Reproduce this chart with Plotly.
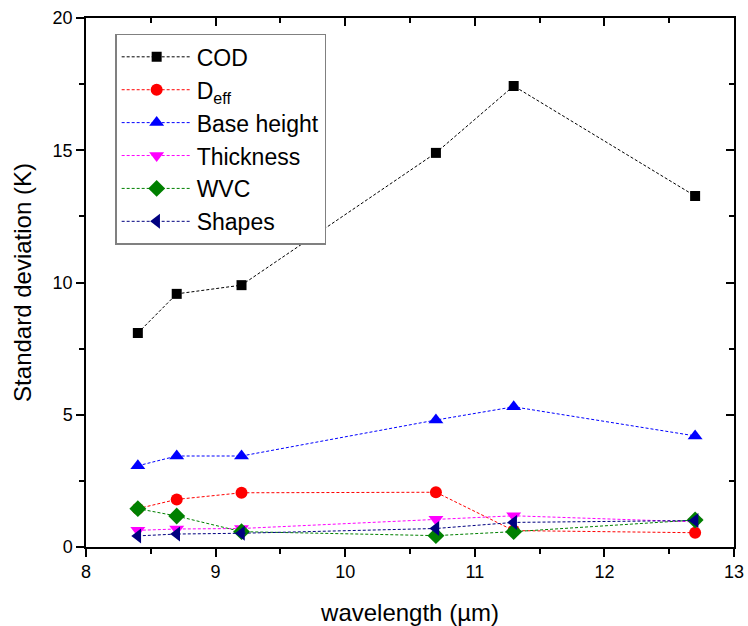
import plotly.graph_objects as go

wavelength = [8.4, 8.7, 9.2, 10.7, 11.3, 12.7]
cod = [8.09, 9.57, 9.9, 14.9, 17.43, 13.27]
deff = [1.45, 1.80, 2.05, 2.07, 0.62, 0.54]
base_height = [3.07, 3.44, 3.44, 4.8, 5.3, 4.2]
thickness = [0.63, 0.68, 0.7, 1.05, 1.18, 0.95]
wvc = [1.45, 1.17, 0.58, 0.43, 0.58, 1.02]
shapes = [0.42, 0.49, 0.52, 0.7, 0.93, 1.0]

series = [
    ("COD", cod, "black", "square", 10),
    ("D<sub>eff</sub>", deff, "red", "circle", 12),
    ("Base height", base_height, "blue", "triangle-up", 13),
    ("Thickness", thickness, "magenta", "triangle-down", 13),
    ("WVC", wvc, "green", "diamond", 13),
    ("Shapes", shapes, "#000080", "triangle-left", 13),
]

fig = go.Figure()
for name, vals, color, sym, size in series:
    fig.add_trace(go.Scatter(
        x=wavelength, y=vals, name=name, mode="lines+markers",
        line=dict(color=color, width=1, dash="3px,2px"),
        marker=dict(symbol=sym, size=size, color=color),
    ))

axis_common = dict(showline=True, linecolor="black", linewidth=1.5, showgrid=False,
                   zeroline=False, tickcolor="black", tickwidth=1.5, automargin=False)

fig.update_layout(
    width=748, height=626,
    margin=dict(l=86, r=14, t=18, b=79),
    plot_bgcolor="white", paper_bgcolor="white",
    font=dict(family="Liberation Sans, Arial, sans-serif", color="black"),
    xaxis=dict(range=[8, 13], dtick=1, ticks="outside", ticklen=8,
               minor=dict(dtick=0.5, ticks="outside", ticklen=5, tickcolor="black"),
               title=dict(text="wavelength (µm)", font=dict(size=24), standoff=23),
               tickfont=dict(size=18), **axis_common),
    yaxis=dict(range=[0, 20], dtick=5, ticks="outside", ticklen=8,
               minor=dict(dtick=2.5, ticks="outside", ticklen=5, tickcolor="black"),
               title=dict(text="Standard deviation (K)", font=dict(size=24), standoff=14),
               tickfont=dict(size=18), **axis_common),
    xaxis2=dict(range=[8, 13], dtick=1, ticks="inside", ticklen=8, overlaying="x", side="top",
                minor=dict(dtick=0.5, ticks="inside", ticklen=5, tickcolor="black"),
                showticklabels=False, **axis_common),
    yaxis2=dict(range=[0, 20], dtick=5, ticks="inside", ticklen=8, overlaying="y", side="right",
                minor=dict(dtick=2.5, ticks="inside", ticklen=5, tickcolor="black"),
                showticklabels=False, **axis_common),
    legend=dict(x=0.045, y=0.97, xanchor="left", yanchor="top",
                bgcolor="white", bordercolor="#808080", borderwidth=1.5,
                font=dict(size=23), tracegroupgap=0, itemwidth=70),
    showlegend=True,
)
fig.add_trace(go.Scatter(x=[8], y=[0], xaxis="x2", yaxis="y2", mode="markers",
                         marker=dict(opacity=0), showlegend=False, hoverinfo="skip"))

fig.write_html("out.html", post_script="document.body.style.margin='0';",
               config={"displayModeBar": False})
